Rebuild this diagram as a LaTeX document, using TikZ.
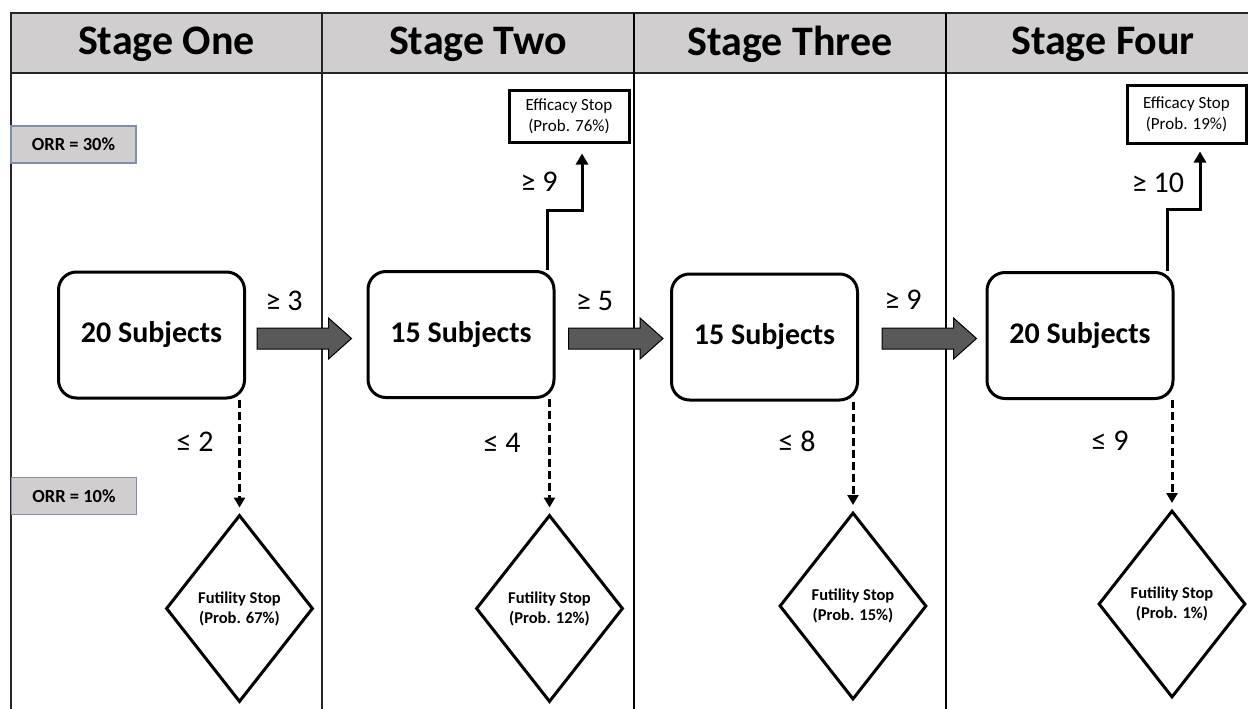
\documentclass[tikz,border=0pt]{standalone}
\usepackage{fontspec}
\setmainfont{Carlito}
\usetikzlibrary{shapes.geometric,calc,arrows.meta}
\definecolor{hdr}{HTML}{D0CECE}
\definecolor{orrline}{HTML}{7F8FA9}
\definecolor{arrowfill}{HTML}{595959}
\newcommand\blockarrow[2]{%
  \draw[blockar] let \p1=(#1), \p2=(#2) in
    (\x1,\y1-10.5pt) -- (\x2-23pt,\y1-10.5pt) -- (\x2-23pt,\y1-20.5pt) -- (\x2,\y1)
    -- (\x2-23pt,\y1+20.5pt) -- (\x2-23pt,\y1+10.5pt) -- (\x1,\y1+10.5pt) -- cycle;}
\begin{document}
\begin{tikzpicture}[x=1pt,y=-1pt,
  grid/.style={line width=1.5pt, draw=black!85},
  stagehdr/.style={font=\fontsize{42}{46}\selectfont\bfseries, inner sep=0},
  subj/.style={draw, line width=3pt, rounded corners=18pt, minimum width=186pt,
    minimum height=126pt, inner sep=0, font=\fontsize{30}{34}\selectfont\bfseries},
  fut/.style={draw, diamond, line width=3pt, minimum width=147pt, minimum height=187pt,
    inner sep=0, align=center, font=\fontsize{16.5}{20}\selectfont\bfseries},
  eff/.style={draw, line width=3pt, inner sep=0, align=center,
    font=\fontsize{17}{21}\selectfont},
  orr/.style={draw=orrline, fill=hdr, line width=1.2pt, minimum width=125pt,
    minimum height=37pt, inner sep=0, font=\fontsize{18.5}{22}\selectfont\bfseries},
  lab/.style={inner sep=0, font=\fontsize{30}{34}\selectfont},
  blockar/.style={draw=black, fill=arrowfill, line width=1pt, line join=miter},
  effarr/.style={line width=3pt, line join=miter, -{Triangle[width=12pt,length=11pt]}},
  dasharr/.style={line width=3pt, dash pattern=on 8pt off 4pt, shorten >=6pt,
    -{Triangle[width=11pt,length=10pt]}}]
\useasboundingbox (0,0) rectangle (1248,709);
\fill[white] (0,0) rectangle (1248,709);
% header band and column lines
\draw[grid, fill=hdr] (11,13) rectangle (1262,73);
\draw[grid] (11,73) -- (11,709);
\draw[line width=1.2pt, draw=black!85] (322,13) -- (322,709);
\draw[line width=2.5pt] (634,13) -- (634,709);
\draw[line width=2pt] (946,13) -- (946,709);
% stage headers
\node[stagehdr] (h1) at (166.5,44) {Stage One};
\node[stagehdr] (h2) at (478,44) {Stage Two};
\node[stagehdr] (h3) at (790,44) {Stage Three};
\node[stagehdr] (h4) at (1103,44) {Stage Four};
% ORR boxes
\node[orr] (orr30) at (73.5,144.5) {ORR = 30\%};
\node[orr] (orr10) at (74,496) {ORR = 10\%};
% subject boxes
\node[subj] (s1) at (151.5,335) {20 Subjects};
\node[subj] (s2) at (461,334.5) {15 Subjects};
\node[subj] (s3) at (764.5,337) {15 Subjects};
\node[subj] (s4) at (1080,335.5) {20 Subjects};
% futility diamonds
\node[fut] (d1) at (239.5,608.5) {Futility Stop\\(Prob. 67\%)};
\node[fut] (d2) at (549.5,608.5) {Futility Stop\\(Prob. 12\%)};
\node[fut] (d3) at (853,606) {Futility Stop\\(Prob. 15\%)};
\node[fut] (d4) at (1172,604) {Futility Stop\\(Prob. 1\%)};
% efficacy boxes
\node[eff, minimum width=120pt, minimum height=51pt] (e2) at (569,116.5) {Efficacy Stop\\(Prob. 76\%)};
\node[eff, minimum width=119pt, minimum height=57pt] (e4) at (1186.5,114.5) {Efficacy Stop\\(Prob. 19\%)};
% block arrows between stages
\blockarrow{$(s1.east)+(11,3.5)$}{$(s2.west)+(-15,3.5)$}
\blockarrow{$(s2.east)+(13,4)$}{$(s3.west)+(-7,4)$}
\blockarrow{$(s3.east)+(23,1.5)$}{$(s4.west)+(-9,1.5)$}
% efficacy connectors
\draw[effarr] ($(s2.north east)+(-8,0)$) -- ++(0,-60) -| ($(e2.south)+(13,10)$);
\draw[effarr] ($(s4.north east)+(-7,0)$) -- ++(0,-62) -| ($(e4.south)+(13.5,7)$);
% futility connectors
\draw[dasharr] (s1.south -| d1.north) -- (d1.north);
\draw[dasharr] (s2.south -| d2.north) -- (d2.north);
\draw[dasharr] (s3.south -| d3.north) -- (d3.north);
\draw[dasharr] (s4.south -| d4.north) -- (d4.north);
% labels
\node[lab] (g3) at (284,301) {≥ 3};
\node[lab] (g5) at (594.5,301) {≥ 5};
\node[lab] (g9b) at (903,300) {≥ 9};
\node[lab] (g9a) at (539,182) {≥ 9};
\node[lab] (g10) at (1158,183) {≥ 10};
\node[lab] (l2) at (195,442) {≤ 2};
\node[lab] (l4) at (502,443) {≤ 4};
\node[lab] (l8) at (797,441) {≤ 8};
\node[lab] (l9) at (1110,441) {≤ 9};
\end{tikzpicture}
\end{document}
